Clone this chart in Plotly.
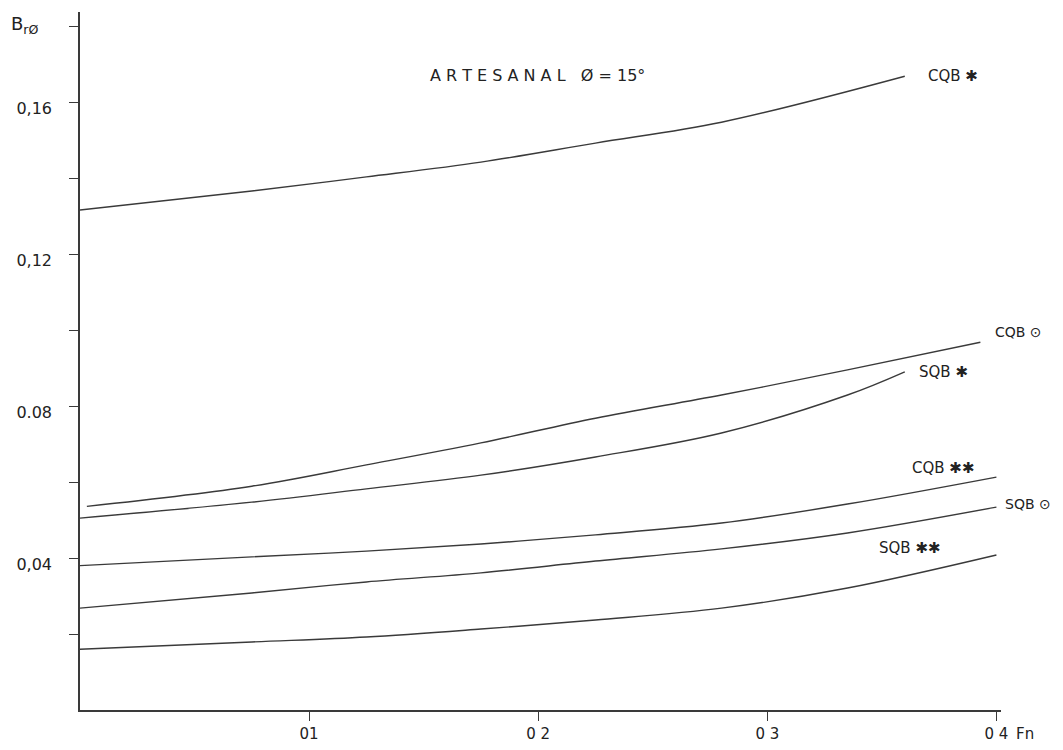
import plotly.graph_objects as go

# ---- data ----
fn_cqb_star = [0, 0.075, 0.125, 0.175, 0.225, 0.28, 0.36]
b_cqb_star = [0.1316, 0.1366, 0.1403, 0.1442, 0.1492, 0.1547, 0.1668]

fn_cqb_circ = [0.003, 0.075, 0.125, 0.175, 0.225, 0.28, 0.335, 0.393]
b_cqb_circ = [0.0536, 0.0589, 0.0645, 0.0703, 0.0768, 0.0829, 0.0895, 0.0968]

fn_sqb_star = [0, 0.075, 0.125, 0.175, 0.225, 0.28, 0.335, 0.36]
b_sqb_star = [0.0505, 0.0547, 0.0582, 0.0618, 0.0666, 0.0729, 0.0829, 0.089]

fn_cqb_2star = [0, 0.075, 0.125, 0.175, 0.225, 0.28, 0.335, 0.40]
b_cqb_2star = [0.038, 0.0403, 0.0418, 0.0437, 0.0461, 0.0492, 0.0542, 0.0613]

fn_sqb_circ = [0, 0.075, 0.125, 0.175, 0.225, 0.28, 0.335, 0.40]
b_sqb_circ = [0.0268, 0.0308, 0.0337, 0.0361, 0.0392, 0.0424, 0.0466, 0.0534]

fn_sqb_2star = [0, 0.075, 0.125, 0.175, 0.225, 0.28, 0.335, 0.40]
b_sqb_2star = [0.016, 0.0179, 0.0192, 0.0213, 0.0237, 0.0268, 0.0321, 0.0408]

series_names = ["CQB ✱", "CQB ⊙", "SQB ✱", "CQB ✱✱", "SQB ⊙", "SQB ✱✱"]
series_x = [fn_cqb_star, fn_cqb_circ, fn_sqb_star, fn_cqb_2star, fn_sqb_circ, fn_sqb_2star]
series_y = [b_cqb_star, b_cqb_circ, b_sqb_star, b_cqb_2star, b_sqb_circ, b_sqb_2star]

# label anchor points (paper coords) and font sizes
label_px = [0.9185, 0.9913, 0.9088, 0.9012, 1.0022, 0.8654]
label_py = [0.9088, 0.5415, 0.4842, 0.3467, 0.2951, 0.2321]
label_size = [15, 14, 15, 15, 14, 15]

y_tickvals = [0.04, 0.08, 0.12, 0.16]
y_ticktext = ["0,04", "0.08", "0,12", "0,16"]
y_minor_tickvals = [0.02, 0.06, 0.10, 0.14, 0.18]
x_tickvals = [0.1, 0.2, 0.3, 0.4]
x_ticktext = ["01", "0 2", "0 3", "0 4"]

title_text = "A R T E S A N A L   Ø = 15°"

INK = "#3a3a3a"
FONT = "DejaVu Sans"

fig = go.Figure()
for name, xs, ys in zip(series_names, series_x, series_y):
    fig.add_trace(go.Scatter(
        x=xs, y=ys, mode="lines", name=name,
        line=dict(color=INK, width=1.4, shape="spline", smoothing=1.0),
        showlegend=False, hoverinfo="skip",
    ))

annotations = []
for name, lx, ly, fs in zip(series_names, label_px, label_py, label_size):
    annotations.append(dict(
        x=lx, y=ly, xref="paper", yref="paper", text=name, showarrow=False,
        xanchor="left", yanchor="middle",
        font=dict(family=FONT, size=fs, color="#222222"),
    ))

annotations.append(dict(
    x=0.1996, y=0.167, xref="x", yref="y", text=title_text, showarrow=False,
    xanchor="center", yanchor="middle",
    font=dict(family=FONT, size=16, color="#222222"),
))
annotations.append(dict(
    x=-0.077, y=0.982, xref="paper", yref="paper", text="B<sub>rØ</sub>", showarrow=False,
    xanchor="left", yanchor="middle",
    font=dict(family=FONT, size=18, color="#222222"),
))
annotations.append(dict(
    x=0.4, y=0, xref="x", yref="y", text="Fn", showarrow=False,
    xanchor="left", yanchor="top", xshift=18, yshift=-13,
    font=dict(family=FONT, size=15, color="#222222"),
))

# the page body adds an 8px offset, so the figure is 8px smaller each way
fig.update_layout(
    width=1055, height=742,
    margin=dict(l=72, r=62, t=4, b=40),
    paper_bgcolor="white", plot_bgcolor="white",
    annotations=annotations,
    font=dict(family=FONT, color="#222222"),
)

fig.update_xaxes(
    range=[0, 0.402], showgrid=False, zeroline=False,
    showline=True, linecolor=INK, linewidth=1.5,
    ticks="outside", ticklen=9, tickwidth=1.3, tickcolor=INK,
    tickvals=x_tickvals, ticktext=x_ticktext,
    tickfont=dict(family=FONT, size=15, color="#222222"),
)
fig.update_yaxes(
    range=[0, 0.1837], showgrid=False, zeroline=False,
    showline=True, linecolor=INK, linewidth=1.5,
    ticks="outside", ticklen=9, tickwidth=1.3, tickcolor=INK,
    tickvals=y_tickvals, ticktext=y_ticktext,
    ticklabelstandoff=14, ticklabelshift=6,
    tickfont=dict(family=FONT, size=16, color="#222222"),
    minor=dict(tickvals=y_minor_tickvals, ticks="outside", ticklen=9,
               tickwidth=1.3, tickcolor=INK, showgrid=False),
)

fig.write_html("out.html")
